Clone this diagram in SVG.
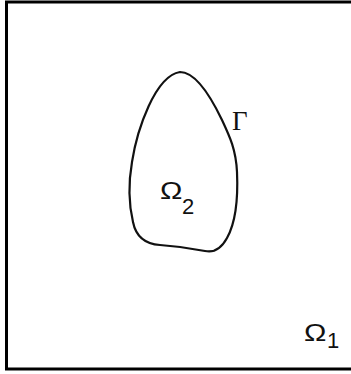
<svg xmlns="http://www.w3.org/2000/svg" width="351" height="374" viewBox="0 0 351 374">
<style>
.frame{fill:none;stroke:#000;stroke-width:3}
.curve{fill:none;stroke:#111;stroke-width:2.2}
.sans{font-family:"Liberation Sans",Arial,sans-serif;fill:#111}
.serif{font-family:"Liberation Serif","Times New Roman",serif;fill:#111}
</style>
<rect width="351" height="374" fill="#fff"/>
<g id="domain">
<path class="frame" d="M351,2 H6.5 V369 H351"/>
</g>
<g id="inclusion">
<path class="curve" d="M180,72 C195,72 210,95 222,120 C230,137 236,150 237,172 C238,195 236,222 227,238 C221,249 214,253 205,251 C190,248 175,246 160,245 C145,244 136,237 133,222 C129,205 128,185 132,162 C137,130 155,76 180,72 Z"/>
<text class="serif" x="232" y="130" font-size="27">Γ</text>
<text class="sans" transform="translate(160,199) scale(1.25,1)" font-size="24">Ω</text>
<text class="sans" x="182" y="214" font-size="22">2</text>
</g>
<g id="outer-label">
<text class="sans" transform="translate(304,341) scale(1.25,1)" font-size="24">Ω</text>
<text class="sans" x="327" y="348" font-size="22">1</text>
</g>
</svg>
